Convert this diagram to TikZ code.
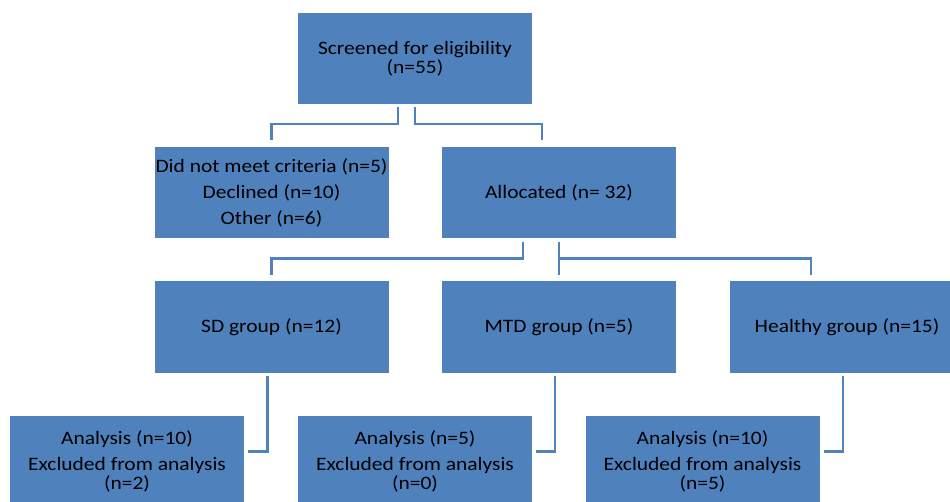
\documentclass[tikz,border=0pt]{standalone}
\usepackage{fontspec}
\setmainfont{Carlito}[FakeStretch=1.13]
\definecolor{boxblue}{HTML}{4F81BD}
\begin{document}
\begin{tikzpicture}[x=1pt, y=-1pt,
      every node/.style={font=\fontsize{19}{19}\selectfont, align=center},
      caja/.style={fill=boxblue, minimum width=234pt, minimum height=91pt, inner sep=0pt},
      linea/.style={draw=boxblue, line width=2.6pt}
    ]
    \useasboundingbox (0,0) rectangle (950,502);
    \clip (0,0) rectangle (950,502);
    \node[caja] (screen)  at (415,58.5)  {Screened for eligibility\\(n=55)};
    \node[caja] (excl)    at (271.5,193) {Did not meet criteria (n=5)\\[7pt]Declined (n=10)\\[7pt]Other (n=6)};
    \node[caja] (alloc)   at (559,193)   {Allocated (n= 32)};
    \node[caja] (sd)      at (271.5,327) {SD group (n=12)};
    \node[caja] (mtd)     at (559,327)   {MTD group (n=5)};
    \node[caja] (healthy) at (847,327)   {Healthy group (n=15)};
    \node[caja] (an1)     at (127,461.5) {Analysis (n=10)\\[7pt]Excluded from analysis\\(n=2)};
    \node[caja] (an2)     at (415,461.5) {Analysis (n=5)\\[7pt]Excluded from analysis\\(n=0)};
    \node[caja] (an3)     at (702.5,461.5) {Analysis (n=10)\\[7pt]Excluded from analysis\\(n=5)};
    \draw[linea, shorten <=3pt] ([xshift=-17pt]screen.south) -- ++(0,20) -| ([yshift=7pt]excl.north);
    \draw[linea, shorten <=3pt] (screen.south) -- ++(0,20) -| ([xshift=-17pt, yshift=7pt]alloc.north);
    \draw[linea, shorten <=3pt] ([xshift=-36pt]alloc.south) -- ++(0,20) -| ([yshift=6pt]sd.north);
    \draw[linea, shorten <=3pt, shorten >=6pt] (alloc.south) -- (mtd.north);
    \draw[linea] ([yshift=-20pt]alloc.south) -| ([xshift=-36pt, yshift=6pt]healthy.north);
    \draw[linea, shorten <=3pt, shorten >=4pt] ([xshift=-4pt]sd.south) |- ([yshift=10pt]an1.east);
    \draw[linea, shorten <=3pt, shorten >=4pt] ([xshift=-4pt]mtd.south) |- ([yshift=10pt]an2.east);
    \draw[linea, shorten <=3pt, shorten >=4pt] ([xshift=-4pt]healthy.south) |- ([yshift=10pt]an3.east);
  \end{tikzpicture}
\end{document}
